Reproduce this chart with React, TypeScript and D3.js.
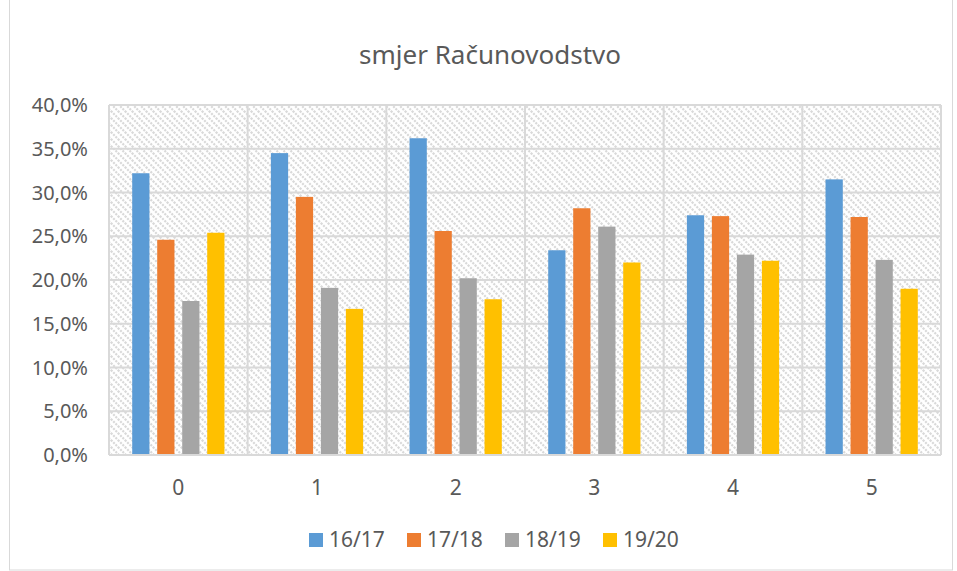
import * as d3 from "d3";

const categories = ["0", "1", "2", "3", "4", "5"];
const seriesNames = ["16/17", "17/18", "18/19", "19/20"];
const seriesColors = ["#5B9BD5", "#ED7D31", "#A5A5A5", "#FFC000"];
const s1617 = [32.2, 34.5, 36.2, 23.4, 27.4, 31.5];
const s1718 = [24.6, 29.5, 25.6, 28.2, 27.3, 27.2];
const s1819 = [17.6, 19.1, 20.2, 26.1, 22.9, 22.3];
const s1920 = [25.4, 16.7, 17.8, 22.0, 22.2, 19.0];
const yTicks = [0, 5, 10, 15, 20, 25, 30, 35, 40];

const W = 957;
const H = 571;
const plot = { left: 109, right: 941, top: 105, bottom: 455 };
const textColor = "#595959";
const gridColor = "#d9d9d9";
const font = "'Noto Sans', 'Open Sans', sans-serif";

export default function App() {
  const series = [s1617, s1718, s1819, s1920];
  const x0 = d3.scaleBand<string>().domain(categories).range([plot.left, plot.right]);
  const step = 25;
  const x1 = d3
    .scaleBand<string>()
    .domain(seriesNames)
    .range([-step * 2, step * 2])
    .paddingInner(0.31)
    .paddingOuter(0.155);
  const y = d3.scaleLinear().domain([0, 40]).range([plot.bottom, plot.top]);
  const fmt = (v: number) => v.toFixed(1).replace(".", ",") + "%";

  return (
    <svg
      width={W}
      height={H}
      style={{ position: "absolute", left: 0, top: 0, display: "block", background: "#fff" }}
      fontFamily={font}
    >
      <defs>
        <pattern id="hatch" patternUnits="userSpaceOnUse" width={7} height={7}>
          <rect width={7} height={7} fill="#fff" />
          <path
            d="M-1,-1 L8,8 M-1,6 L1,8 M6,-1 L8,1"
            stroke="#d9d9d9"
            strokeWidth={2.2}
            strokeDasharray="2 1.2"
          />
        </pattern>
      </defs>

      {/* chart area border */}
      <rect x={9.5} y={-1} width={943} height={571} fill="none" stroke={gridColor} />

      <text x={490} y={64} textAnchor="middle" fontSize={26} fill={textColor}>
        smjer Računovodstvo
      </text>

      {/* plot area */}
      <rect
        x={plot.left}
        y={plot.top}
        width={plot.right - plot.left}
        height={plot.bottom - plot.top}
        fill="url(#hatch)"
      />

      {yTicks.map((t) => (
        <g key={t}>
          <line x1={plot.left} x2={plot.right} y1={y(t)} y2={y(t)} stroke={gridColor} strokeWidth={2} />
          <text x={88} y={y(t) + 7} textAnchor="end" fontSize={20} fill={textColor}>
            {fmt(t)}
          </text>
        </g>
      ))}

      {categories.map((c) => (
        <line
          key={"v" + c}
          x1={x0(c)!}
          x2={x0(c)!}
          y1={plot.top}
          y2={plot.bottom}
          stroke={gridColor}
          strokeWidth={2}
        />
      ))}
      <line x1={plot.right} x2={plot.right} y1={plot.top} y2={plot.bottom} stroke={gridColor} strokeWidth={2} />

      {categories.map((c, ci) => {
        const cx = x0(c)! + x0.bandwidth() / 2;
        return (
          <g key={"g" + c}>
            {series.map((vals, si) => (
              <rect
                key={si}
                x={cx + x1(seriesNames[si])!}
                y={y(vals[ci])}
                width={x1.bandwidth()}
                height={y(0) - y(vals[ci])}
                fill={seriesColors[si]}
              />
            ))}
            <text x={cx} y={495} textAnchor="middle" fontSize={21} fill={textColor}>
              {c}
            </text>
          </g>
        );
      })}

      <line x1={plot.left} x2={plot.right} y1={plot.bottom} y2={plot.bottom} stroke={gridColor} strokeWidth={2} />

      {seriesNames.map((n, i) => {
        const lx = 309 + i * 98;
        return (
          <g key={n}>
            <rect x={lx} y={533} width={14} height={14} fill={seriesColors[i]} />
            <text x={lx + 20} y={547} fontSize={21} fill={textColor}>
              {n}
            </text>
          </g>
        );
      })}
    </svg>
  );
}
